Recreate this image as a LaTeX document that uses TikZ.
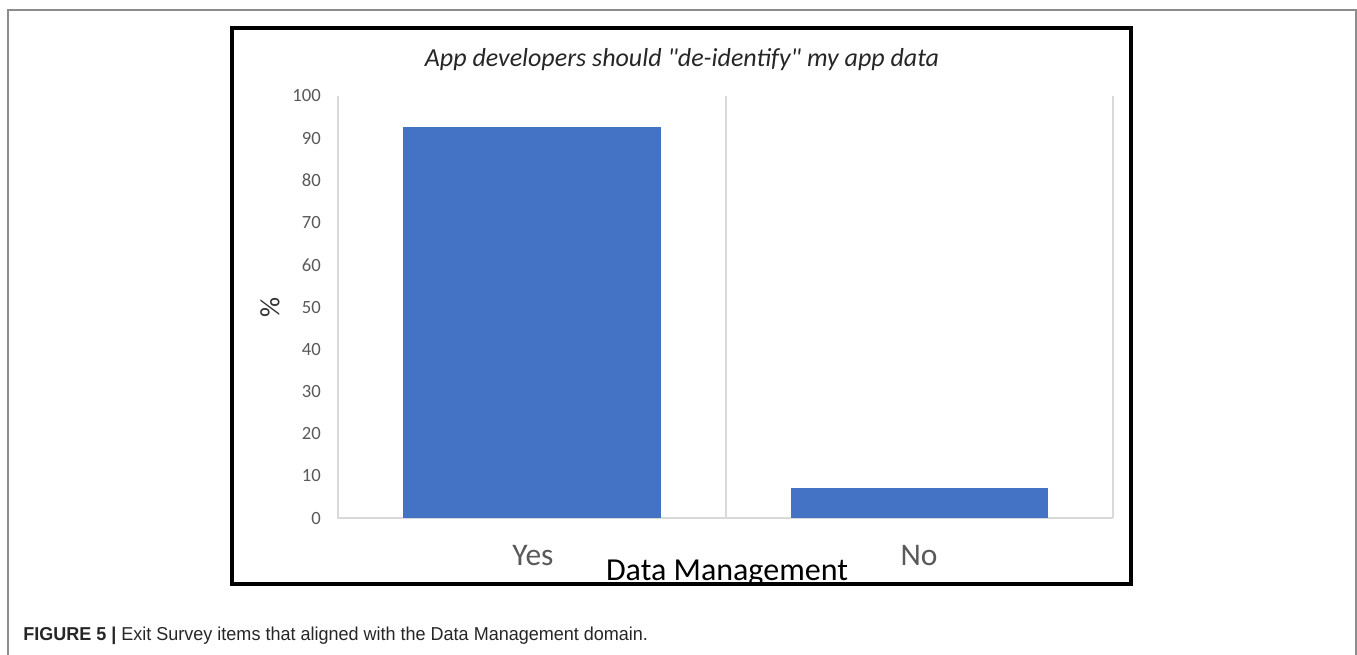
\documentclass[tikz,border=0pt]{standalone}
\usepackage{fontspec}
\usepackage{graphicx}
\setmainfont{Carlito}[Ligatures=TeXOff]
\newfontfamily\capfont{Liberation Sans}
\definecolor{barblue}{HTML}{4472C4}
\definecolor{gridgray}{HTML}{D9D9D9}
\definecolor{ticktext}{HTML}{595959}
\definecolor{framegray}{HTML}{8C8C8C}
\begin{document}
\begin{tikzpicture}[x=0.75pt,y=-0.75pt,
  tick/.style={anchor=east,inner sep=0pt,text=ticktext,font=\fontsize{14}{16}\selectfont},
  catlab/.style={anchor=base,inner sep=0pt,text=ticktext,font=\fontsize{23.6}{28}\selectfont},
  bar/.style={fill=barblue,draw=none},
  grid/.style={draw=gridgray,line width=1pt}]
\useasboundingbox (0,0) rectangle (1357,654);
% outer frame
\draw[framegray,line width=1.5pt] (8,660) -- (8,10) -- (1356,10) -- (1356,660);
% chart frame
\draw[black,line width=2.6pt] (232,28) rectangle (1131,584);
% grid
\draw[grid] (338,96) -- (338,518) -- (1113,518);
\draw[grid] (726,96) -- (726,518);
\draw[grid] (1113,96) -- (1113,518);
% bars
\node[bar,minimum width=258*0.75pt,minimum height=391*0.75pt,inner sep=0pt,anchor=south west] (yes) at (403,518) {};
\node[bar,minimum width=257*0.75pt,minimum height=30*0.75pt,inner sep=0pt,anchor=south west] (no) at (791,518) {};
% ticks
\foreach \v [count=\i] in {0,10,...,100} {
  \node[tick] (t\i) at (321,{518-4.22*\v}) {\v};
}
% labels
\node[anchor=base,inner sep=0pt,font=\fontsize{19.5}{24}\selectfont\itshape,text=black!85] (title) at (682,66) {App developers should "de-identify" my app data};
\node[rotate=90,inner sep=0pt,font=\fontsize{21}{24}\selectfont,text=black!80] (ylab) at (270,307) {\%};
\node[catlab] (ylabYes) at (533,565) {Yes};
\node[catlab] (ylabNo) at (919,565) {No};
\node[anchor=base,inner sep=0pt,font=\fontsize{24}{28}\selectfont] (xlab) at (727,580) {Data Management};
% caption
\node[anchor=base west,inner sep=0pt,font=\capfont\fontsize{14}{16}\selectfont,text=black!85] (cap) at (23,640) {\scalebox{0.965}[1]{\textbf{FIGURE 5 |} Exit Survey items that aligned with the Data Management domain.}};
\end{tikzpicture}
\end{document}
